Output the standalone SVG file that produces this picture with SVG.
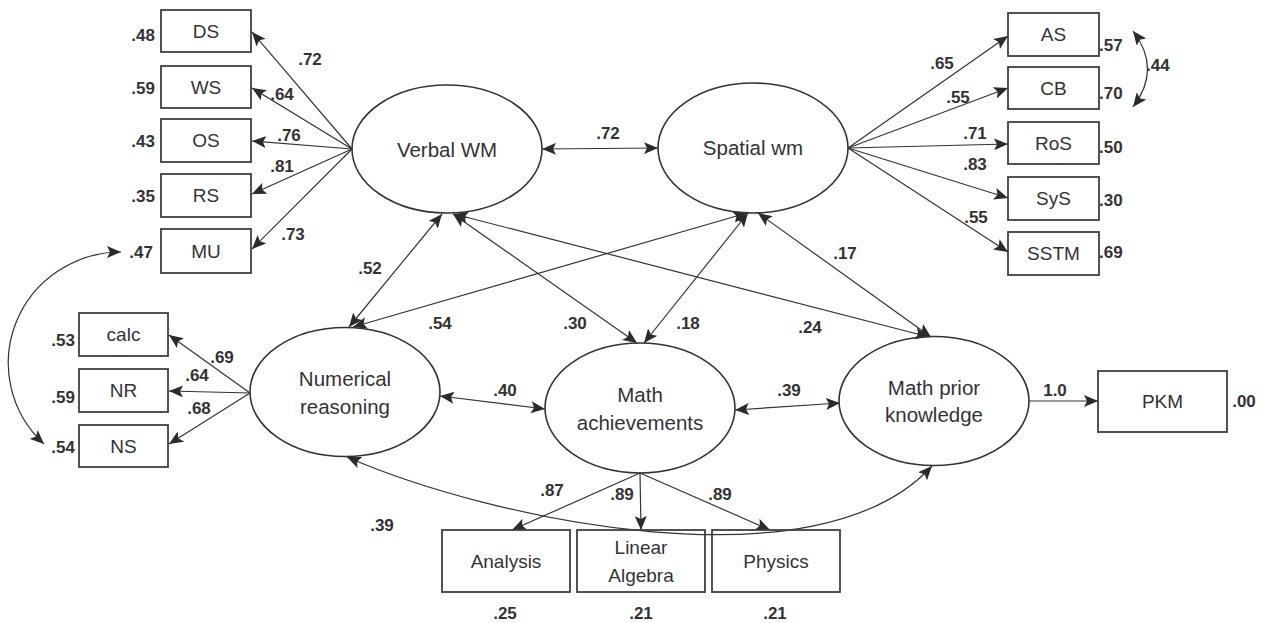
<svg xmlns="http://www.w3.org/2000/svg" width="1265" height="623" viewBox="0 0 1265 623">
<style>
.bx{fill:none;stroke:#404040;stroke-width:1.8}
.el{fill:none;stroke:#333;stroke-width:1.6}
.ln{fill:none;stroke:#333;stroke-width:1.2}
.t{font-family:"Liberation Sans",Arial,sans-serif;font-size:19px;fill:#333;text-anchor:middle}
.te{font-family:"Liberation Sans",Arial,sans-serif;font-size:20.5px;fill:#333;text-anchor:middle}
.n{font-family:"Liberation Sans",Arial,sans-serif;font-size:17px;font-weight:bold;fill:#333;text-anchor:middle}
.ne{text-anchor:end}
.ns{text-anchor:start}
</style>
<defs>
<marker id="ah" markerUnits="userSpaceOnUse" markerWidth="15" markerHeight="12" refX="14" refY="6" orient="auto-start-reverse">
<path d="M0,0 L14,6 L0,12 L3,6 z" fill="#2b2b2b"/>
</marker>
</defs>

<g id="connectors">
<line class="ln" x1="352" y1="149" x2="252" y2="32" marker-end="url(#ah)"/>
<line class="ln" x1="352" y1="149" x2="252" y2="88" marker-end="url(#ah)"/>
<line class="ln" x1="352" y1="149" x2="252" y2="141" marker-end="url(#ah)"/>
<line class="ln" x1="352" y1="149" x2="252" y2="194" marker-end="url(#ah)"/>
<line class="ln" x1="352" y1="149" x2="252" y2="249" marker-end="url(#ah)"/>
<line class="ln" x1="848" y1="148" x2="1008" y2="36" marker-end="url(#ah)"/>
<line class="ln" x1="848" y1="148" x2="1008" y2="88" marker-end="url(#ah)"/>
<line class="ln" x1="848" y1="148" x2="1008" y2="144" marker-end="url(#ah)"/>
<line class="ln" x1="848" y1="148" x2="1008" y2="198" marker-end="url(#ah)"/>
<line class="ln" x1="848" y1="148" x2="1008" y2="252" marker-end="url(#ah)"/>
<line class="ln" x1="250" y1="393" x2="169" y2="335" marker-end="url(#ah)"/>
<line class="ln" x1="250" y1="393" x2="169" y2="391" marker-end="url(#ah)"/>
<line class="ln" x1="250" y1="393" x2="169" y2="444" marker-end="url(#ah)"/>
<line class="ln" x1="640" y1="473" x2="512" y2="530" marker-end="url(#ah)"/>
<line class="ln" x1="640" y1="473" x2="641" y2="530" marker-end="url(#ah)"/>
<line class="ln" x1="640" y1="473" x2="770" y2="530" marker-end="url(#ah)"/>
<line class="ln" x1="1029" y1="401" x2="1098" y2="401" marker-end="url(#ah)"/>
<line class="ln" x1="542" y1="149" x2="658" y2="148" marker-start="url(#ah)" marker-end="url(#ah)"/>
<line class="ln" x1="442" y1="214" x2="349" y2="327" marker-start="url(#ah)" marker-end="url(#ah)"/>
<line class="ln" x1="747" y1="213" x2="353" y2="327" marker-start="url(#ah)" marker-end="url(#ah)"/>
<line class="ln" x1="453" y1="214" x2="637" y2="343" marker-start="url(#ah)" marker-end="url(#ah)"/>
<line class="ln" x1="748" y1="213" x2="644" y2="343" marker-start="url(#ah)" marker-end="url(#ah)"/>
<line class="ln" x1="454" y1="214" x2="929" y2="337" marker-start="url(#ah)" marker-end="url(#ah)"/>
<line class="ln" x1="758" y1="213" x2="931" y2="337" marker-start="url(#ah)" marker-end="url(#ah)"/>
<line class="ln" x1="440" y1="396" x2="545" y2="409" marker-start="url(#ah)" marker-end="url(#ah)"/>
<line class="ln" x1="735" y1="410" x2="840" y2="403" marker-start="url(#ah)" marker-end="url(#ah)"/>
<path class="ln" d="M347,457 C489,519 818,591 932,466" marker-start="url(#ah)" marker-end="url(#ah)"/>
<path class="ln" d="M121,252 A113,111 0 0 0 44,444" marker-start="url(#ah)" marker-end="url(#ah)"/>
<path class="ln" d="M1133,31 Q1162,69 1133,107" marker-start="url(#ah)" marker-end="url(#ah)"/>
</g>

<g id="verbal-wm"><ellipse class="el" cx="447" cy="149" rx="95" ry="64"/><text class="te" x="447" y="157">Verbal WM</text></g>
<g id="spatial-wm"><ellipse class="el" cx="753" cy="148" rx="95" ry="65"/><text class="te" x="753" y="155">Spatial wm</text></g>
<g id="numerical-reasoning"><ellipse class="el" cx="345" cy="392" rx="95" ry="64.5"/><text class="te" x="345" y="386">Numerical</text><text class="te" x="345" y="414">reasoning</text></g>
<g id="math-achievements"><ellipse class="el" cx="640" cy="408" rx="95" ry="65"/><text class="te" x="640" y="402">Math</text><text class="te" x="640" y="430">achievements</text></g>
<g id="math-prior-knowledge"><ellipse class="el" cx="934" cy="401" rx="95" ry="64.5"/><text class="te" x="934" y="395">Math prior</text><text class="te" x="934" y="422">knowledge</text></g>

<g id="DS"><rect class="bx" x="161" y="10" width="90" height="42"/><text class="t" x="206" y="38">DS</text></g>
<g id="WS"><rect class="bx" x="161" y="66" width="90" height="42"/><text class="t" x="206" y="94">WS</text></g>
<g id="OS"><rect class="bx" x="161" y="119" width="90" height="43"/><text class="t" x="206" y="147">OS</text></g>
<g id="RS"><rect class="bx" x="161" y="174" width="90" height="43"/><text class="t" x="206" y="202">RS</text></g>
<g id="MU"><rect class="bx" x="161" y="229" width="90" height="44"/><text class="t" x="206" y="258">MU</text></g>

<g id="AS"><rect class="bx" x="1008" y="13" width="91" height="43"/><text class="t" x="1053.5" y="41">AS</text></g>
<g id="CB"><rect class="bx" x="1008" y="67" width="91" height="42"/><text class="t" x="1053.5" y="95">CB</text></g>
<g id="RoS"><rect class="bx" x="1008" y="122" width="91" height="42"/><text class="t" x="1053.5" y="150">RoS</text></g>
<g id="SyS"><rect class="bx" x="1008" y="177" width="91" height="43"/><text class="t" x="1053.5" y="205">SyS</text></g>
<g id="SSTM"><rect class="bx" x="1008" y="232" width="91" height="43"/><text class="t" x="1053.5" y="260">SSTM</text></g>

<g id="calc"><rect class="bx" x="79" y="313" width="89" height="43"/><text class="t" x="123.5" y="341">calc</text></g>
<g id="NR"><rect class="bx" x="79" y="369" width="89" height="43"/><text class="t" x="123.5" y="397">NR</text></g>
<g id="NS"><rect class="bx" x="79" y="425" width="89" height="42"/><text class="t" x="123.5" y="453">NS</text></g>

<g id="Analysis"><rect class="bx" x="442" y="530" width="128" height="62"/><text class="t" x="506" y="568">Analysis</text></g>
<g id="LinearAlgebra"><rect class="bx" x="577" y="530" width="128" height="62"/><text class="t" x="641" y="554">Linear</text><text class="t" x="641" y="582">Algebra</text></g>
<g id="Physics"><rect class="bx" x="712" y="530" width="128" height="62"/><text class="t" x="776" y="568">Physics</text></g>
<g id="PKM"><rect class="bx" x="1098" y="371" width="129" height="61"/><text class="t" x="1162.5" y="408">PKM</text></g>

<g id="labels">
<text class="n" x="310" y="65">.72</text>
<text class="n" x="282" y="100">.64</text>
<text class="n" x="289" y="141">.76</text>
<text class="n" x="282" y="172">.81</text>
<text class="n" x="293" y="240">.73</text>
<text class="n ne" x="155" y="41">.48</text>
<text class="n ne" x="155" y="94">.59</text>
<text class="n ne" x="155" y="147">.43</text>
<text class="n ne" x="155" y="202">.35</text>
<text class="n ne" x="153" y="258">.47</text>
<text class="n" x="942" y="69">.65</text>
<text class="n" x="958" y="103">.55</text>
<text class="n" x="975" y="139">.71</text>
<text class="n" x="975" y="170">.83</text>
<text class="n" x="976" y="223">.55</text>
<text class="n ns" x="1099" y="51">.57</text>
<text class="n ns" x="1099" y="99">.70</text>
<text class="n ns" x="1099" y="153">.50</text>
<text class="n ns" x="1099" y="206">.30</text>
<text class="n ns" x="1099" y="258">.69</text>
<text class="n ns" x="1146" y="71">.44</text>
<text class="n" x="608" y="139">.72</text>
<text class="n" x="370" y="274">.52</text>
<text class="n" x="440" y="329">.54</text>
<text class="n" x="575" y="329">.30</text>
<text class="n" x="688" y="329">.18</text>
<text class="n" x="810" y="333">.24</text>
<text class="n" x="845" y="259">.17</text>
<text class="n" x="505" y="396">.40</text>
<text class="n" x="789" y="396">.39</text>
<text class="n ne" x="75" y="346">.53</text>
<text class="n ne" x="75" y="403">.59</text>
<text class="n ne" x="75" y="453">.54</text>
<text class="n" x="222" y="363">.69</text>
<text class="n" x="197" y="381">.64</text>
<text class="n" x="199" y="414">.68</text>
<text class="n" x="382" y="531">.39</text>
<text class="n" x="552" y="496">.87</text>
<text class="n" x="622" y="500">.89</text>
<text class="n" x="720" y="500">.89</text>
<text class="n" x="505" y="619">.25</text>
<text class="n" x="641" y="619">.21</text>
<text class="n" x="775" y="619">.21</text>
<text class="n" x="1055" y="396">1.0</text>
<text class="n" x="1244" y="407">.00</text>
</g>
</svg>
